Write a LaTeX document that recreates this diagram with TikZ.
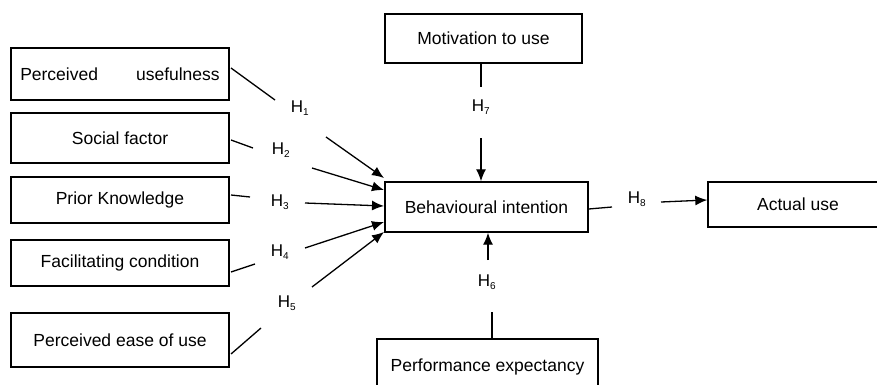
\documentclass[tikz,border=0pt]{standalone}
\usepackage{fontspec}
\setmainfont{Liberation Sans}
\usetikzlibrary{arrows.meta}
\tikzset{
  factor/.style={draw, line width=1.4pt, minimum height=50pt, inner sep=0pt, font=\fontsize{17.5}{20}\selectfont},
  hyp/.style={inner sep=1pt, font=\fontsize{17}{20}\selectfont},
  link/.style={line width=1.3pt},
  push/.style={line width=1.3pt, -{Latex[length=12pt,width=10pt]}}
}
\newcommand{\hlab}[1]{H\textsubscript{\fontsize{10}{12}\selectfont #1}}
\begin{document}
\begin{tikzpicture}[x=1pt,y=-1pt]
\clip (0,0) rectangle (877,385);
\fill[white] (0,0) rectangle (877,385);

% left-hand factors
\node[factor, minimum width=218pt, minimum height=52pt] (pu)  at (120,74)  {Perceived\hspace{38pt}usefulness};
\node[factor, minimum width=218pt] (sf)  at (120,138) {Social factor};
\node[factor, minimum width=218pt, minimum height=46pt] (pk)  at (120,200) {Prior Knowledge};
\node[factor, minimum width=218pt, minimum height=46pt] (fc)  at (120,263) {Facilitating condition};
\node[factor, minimum width=218pt, minimum height=54pt] (peu) at (120,340) {Perceived ease of use};

% central and right-hand constructs
\node[factor, minimum width=197pt, minimum height=49pt] (mot) at (483.5,38.5) {Motivation to use};
\node[factor, minimum width=203pt] (bi)  at (486.5,207) {Behavioural intention};
\node[factor, minimum width=180pt, minimum height=45pt] (au)  at (798,204.5) {Actual use};
\node[factor, minimum width=221pt, minimum height=56pt] (pe)  at (487.5,367) {Performance expectancy};

% hypothesis labels
\node[hyp] (h1) at (300,108) {\hlab{1}};
\node[hyp] (h2) at (281,150) {\hlab{2}};
\node[hyp] (h3) at (280,202) {\hlab{3}};
\node[hyp] (h4) at (280,252) {\hlab{4}};
\node[hyp] (h5) at (287,303) {\hlab{5}};
\node[hyp] (h7) at (481,107) {\hlab{7}};
\node[hyp] (h6) at (487,282) {\hlab{6}};
\node[hyp] (h8) at (637,199) {\hlab{8}};

% line ends on either side of each label
\coordinate (s1) at (231,68);  \coordinate (e1) at (275,100);
\coordinate (t1) at (326,137); \coordinate (b1) at (384,178);
\coordinate (s2) at (231,140); \coordinate (e2) at (253,148);
\coordinate (t2) at (312,168); \coordinate (b2) at (384,190);
\coordinate (s3) at (231,195); \coordinate (e3) at (250,197);
\coordinate (t3) at (305,203); \coordinate (b3) at (384,206);
\coordinate (s4) at (231,272); \coordinate (e4) at (255,264);
\coordinate (t4) at (305,248); \coordinate (b4) at (384,222);
\coordinate (s5) at (231,354); \coordinate (e5) at (261,328);
\coordinate (t5) at (312,287); \coordinate (b5) at (384,232);
\coordinate (e7) at (481,87);  \coordinate (t7) at (481,138);
\coordinate (e6) at (492,312); \coordinate (t6) at (488,260);
\coordinate (e8) at (612,207); \coordinate (t8) at (661,202);

% connectors
\draw[link] (s1) -- (e1);  \draw[push] (t1) -- (b1);
\draw[link] (s2) -- (e2);  \draw[push] (t2) -- (b2);
\draw[link] (s3) -- (e3);  \draw[push] (t3) -- (b3);
\draw[link] (s4) -- (e4);  \draw[push] (t4) -- (b4);
\draw[link] (s5) -- (e5);  \draw[push] (t5) -- (b5);
\draw[link] (mot.south -| e7) -- (e7);  \draw[push] (t7) -- (bi.north -| t7);
\draw[link] (pe.north -| e6) -- (e6);   \draw[push] (t6) -- (bi.south -| t6);
\draw[link] (bi.east |- 0,209) -- (e8); \draw[push] (t8) -- (au.west |- 0,200);
\end{tikzpicture}
\end{document}
